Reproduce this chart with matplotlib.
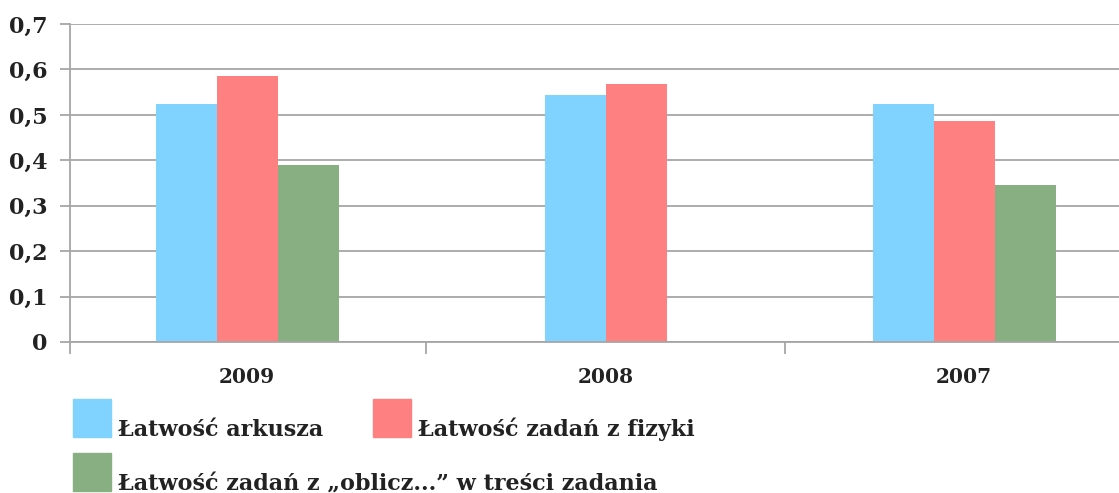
import matplotlib
matplotlib.use('Agg')
import matplotlib.pyplot as plt
import matplotlib.ticker as ticker
from matplotlib.patches import Rectangle

# data
years = ['2009', '2008', '2007']
latwosc_arkusza = [0.524, 0.544, 0.524]
latwosc_fizyki = [0.586, 0.568, 0.487]
latwosc_oblicz = [0.390, None, 0.346]

series_names = ['Łatwość arkusza', 'Łatwość zadań z fizyki',
                'Łatwość zadań z „oblicz...” w treści zadania']
colors = ['#80D2FF', '#FF8080', '#88AF82']
y_ticks = [0, 0.1, 0.2, 0.3, 0.4, 0.5, 0.6, 0.7]

FAMILY = 'DejaVu Serif'
TEXT = '#222222'
GRID = '#A6A6A6'

fig = plt.figure(figsize=(11.19, 4.93), dpi=100)
ax = fig.add_axes([70 / 1119, 151 / 493, 1 - 70 / 1119, 318 / 493])

width = 0.170
values = [latwosc_arkusza, latwosc_fizyki, latwosc_oblicz]
for i in range(len(years)):
    present = [(k, v[i]) for k, v in enumerate(values) if v[i] is not None]
    n = len(present)
    for j, (k, val) in enumerate(present):
        x = i + (j - (n - 1) / 2) * width
        ax.bar(x, val, width, color=colors[k], zorder=2)

ax.set_ylim(0, 0.7)
ax.set_xlim(-0.494, 2.432)
ax.set_axisbelow(True)

ax.set_yticks(y_ticks)
ax.yaxis.set_major_formatter(ticker.FuncFormatter(
    lambda v, _: '0' if v == 0 else f'{v:.1f}'.replace('.', ',')))
ax.grid(axis='y', color=GRID, linewidth=1.3)
ax.tick_params(axis='y', length=7.2, width=1.3, color=GRID, pad=9)

# category separators as major ticks, labels on minor ticks
ax.set_xticks([-0.494, 0.5, 1.5])
ax.set_xticklabels([])
ax.set_xticks(range(len(years)), minor=True)
ax.set_xticklabels(years, minor=True)
ax.tick_params(axis='x', which='major', length=8.5, width=1.3, color=GRID)
ax.tick_params(axis='x', which='minor', length=0, pad=18)

for lab in ax.get_yticklabels():
    lab.set(family=FAMILY, weight='bold', size=16, color=TEXT)
for lab in ax.get_xticklabels(minor=True):
    lab.set(family=FAMILY, weight='bold', size=14.5, color=TEXT)

for side in ['top', 'right']:
    ax.spines[side].set_visible(False)
for side in ['left', 'bottom']:
    ax.spines[side].set_color(GRID)
    ax.spines[side].set_linewidth(1.3)

# legend drawn by hand to match the layout
W, H = 1119, 493
legend_pos = [(73, 437), (373, 437), (73, 491)]
for (px, py), name, col in zip(legend_pos, series_names, colors):
    fig.add_artist(Rectangle((px / W, (H - py) / H), 38 / W, 38 / H,
                             transform=fig.transFigure, color=col))
    fig.text((px + 45) / W, (H - py + 1) / H, name, ha='left', va='baseline',
             family=FAMILY, weight='bold', size=16, color=TEXT)

fig.savefig('out.png', dpi=100)
